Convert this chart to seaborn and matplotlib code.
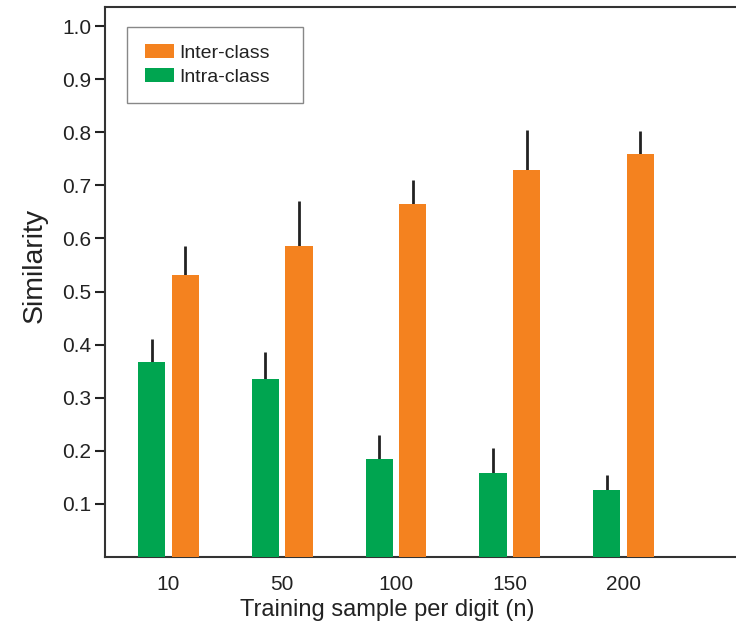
import matplotlib
matplotlib.use("Agg")
import matplotlib.pyplot as plt
import seaborn as sns
import pandas as pd
import numpy as np

categories = ["10", "50", "100", "150", "200"]
intra_mean = [0.368, 0.335, 0.185, 0.158, 0.127]
intra_err = [0.043, 0.051, 0.045, 0.048, 0.028]
inter_mean = [0.532, 0.586, 0.665, 0.729, 0.760]
inter_err = [0.053, 0.084, 0.046, 0.075, 0.042]
series = ["Intra-class", "Inter-class"]
colors = {"Intra-class": "#00A550", "Inter-class": "#F4821F"}

sns.set_theme(style="white")
plt.rcParams["font.family"] = ["Liberation Sans", "DejaVu Sans"]

df = pd.DataFrame({
    "n": categories * 2,
    "value": intra_mean + inter_mean,
    "series": [series[0]] * 5 + [series[1]] * 5,
})

fig = plt.figure(figsize=(7.36, 6.3), dpi=100)
ax = fig.add_axes([105 / 736, 73 / 630, 631 / 736, 550 / 630])

sns.barplot(data=df, x="n", y="value", hue="series", hue_order=series,
            order=categories, palette=colors, saturation=1, width=0.59, gap=0.19,
            linewidth=0, errorbar=None, ax=ax, zorder=3)

# upward-only error bars at bar centres
patches = [p for p in ax.patches if p.get_height() > 0]
errs = intra_err + inter_err
xs = [p.get_x() + p.get_width() / 2 for p in patches]
hs = [p.get_height() for p in patches]
ax.errorbar(xs, hs, yerr=[np.zeros(len(errs)), errs], fmt="none",
            ecolor="#222222", elinewidth=2.0, capsize=0, zorder=2)

ax.set_xlim(-0.558, 4.989)
ax.set_ylim(0, 1.036)
ax.set_yticks([0.1, 0.2, 0.3, 0.4, 0.5, 0.6, 0.7, 0.8, 0.9, 1.0])
ax.set_yticklabels(["0.1", "0.2", "0.3", "0.4", "0.5", "0.6", "0.7", "0.8", "0.9", "1.0"])
ax.tick_params(axis="y", which="both", left=True, length=7, width=1.5,
               direction="out", labelsize=15, pad=3, colors="#222222")
ax.tick_params(axis="x", bottom=False, labelsize=15, pad=7, colors="#222222")
for lab in ax.get_yticklabels() + ax.get_xticklabels():
    lab.set_color("#222222")

for s in ["left", "bottom", "top"]:
    ax.spines[s].set_visible(True)
    ax.spines[s].set_color("#333333")
    ax.spines[s].set_linewidth(1.5)
ax.spines["right"].set_visible(False)

ax.set_xlabel("Training sample per digit (n)", fontsize=17, color="#222222")
ax.set_ylabel("Similarity", fontsize=20.5, color="#222222")
ax.xaxis.set_label_coords((387 - 105) / 631, (557 - 599) / 550)
ax.yaxis.set_label_coords((48 - 105) / 631, (557 - 265) / 550)

handles, labels = ax.get_legend_handles_labels()
order = [labels.index("Inter-class"), labels.index("Intra-class")]
x0 = (127 - 105) / 631
w = (303 - 127) / 631
ytop = (557 - 27) / 550
leg = ax.legend([handles[i] for i in order], [labels[i] for i in order],
                loc="upper left", bbox_to_anchor=(x0, ytop - 0.1, w, 0.1),
                mode="expand",
                fontsize=14, frameon=True, fancybox=False, framealpha=1,
                edgecolor="#888888", borderpad=0.9, handlelength=1.5,
                handleheight=0.7, handletextpad=0.3, labelspacing=0.3,
                borderaxespad=0)
leg.get_frame().set_linewidth(1.0)
for t in leg.get_texts():
    t.set_color("#222222")

fig.savefig("out.png", dpi=100)
